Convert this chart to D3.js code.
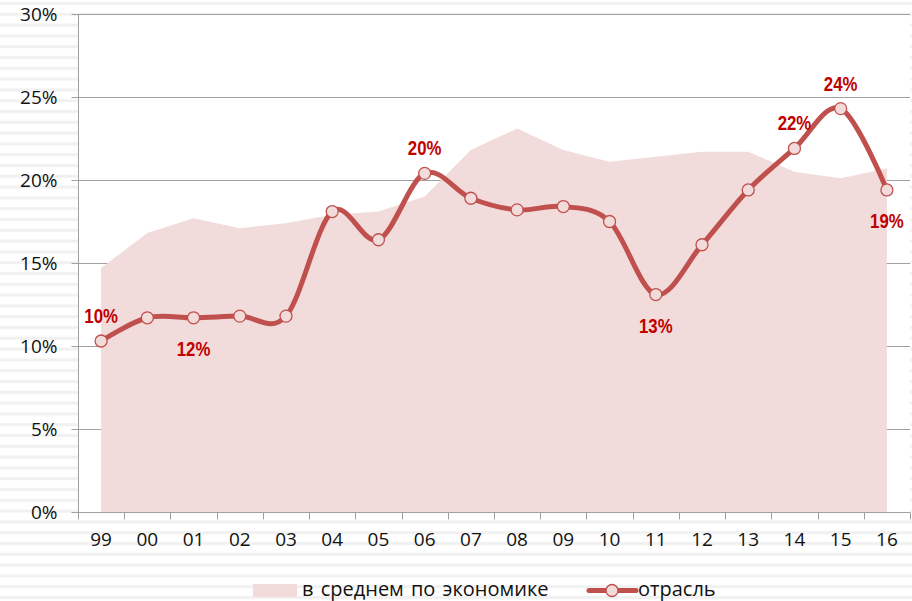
<!DOCTYPE html>
<meta charset="utf-8">
<style>
body { margin: 0; background: #fff; }
text { font-family: "Open Sans", sans-serif; }
.lbl { font-family: "Liberation Sans", Arial, sans-serif; font-weight: bold; }
</style>
<body>
<div id="chart"></div>
<script src="https://d3js.org/d3.v7.min.js"></script>
<script>

var years = ["99","00","01","02","03","04","05","06","07","08","09","10","11","12","13","14","15","16"];
var economy = [14.7, 16.8, 17.7, 17.1, 17.4, 17.9, 18.1, 19.0, 21.8, 23.1, 21.8, 21.1, 21.4, 21.7, 21.7, 20.5, 20.1, 20.7];
var industry = [10.3, 11.7, 11.7, 11.8, 11.8, 18.1, 16.4, 20.4, 18.9, 18.2, 18.4, 17.5, 13.1, 16.1, 19.4, 21.9, 24.3, 19.4];
var labelIdx = [0, 2, 7, 12, 15, 16, 17];
var labelPos = ["above", "below", "above", "below", "above", "above", "below"];
var yTicks = [0, 5, 10, 15, 20, 25, 30];
var legendNames = ["в среднем по экономике", "отрасль"];

var width = 912,
    height = 601,
    margin = {top: 14, right: 2, bottom: 89, left: 78};

var svg = d3.select("#chart").append("svg")
    .attr("width", width)
    .attr("height", height);

// faint striped background
var defs = svg.append("defs");
var pat = defs.append("pattern")
    .attr("id", "stripes")
    .attr("patternUnits", "userSpaceOnUse")
    .attr("width", 8).attr("height", 10.8);
pat.append("rect").attr("width", 8).attr("height", 10.8).attr("fill", "#fff");
pat.append("rect").attr("y", 2).attr("width", 8).attr("height", 3).attr("fill", "#f1f1f1");
svg.append("rect").attr("width", width).attr("height", height).attr("fill", "url(#stripes)");

var x = d3.scaleBand()
    .domain(years)
    .range([margin.left, width - margin.right]);

var y = d3.scaleLinear()
    .domain([0, 30])
    .range([height - margin.bottom, margin.top]);

var cx = function(i) { return x(years[i]) + x.bandwidth() / 2; };

// plot area
svg.append("rect")
    .attr("x", margin.left).attr("y", margin.top)
    .attr("width", width - margin.right - margin.left)
    .attr("height", y(0) - margin.top)
    .attr("fill", "#fff");

// gridlines
svg.append("g")
    .selectAll("line")
    .data(yTicks.slice(1))
    .enter().append("line")
    .attr("x1", margin.left).attr("x2", width - margin.right)
    .attr("y1", function(d) { return y(d) + 0.5; })
    .attr("y2", function(d) { return y(d) + 0.5; })
    .attr("stroke", "#a0a0a0");

// area
var area = d3.area()
    .x(function(d, i) { return cx(i); })
    .y0(y(0))
    .y1(function(d) { return y(d); });

svg.append("path")
    .datum(economy)
    .attr("d", area)
    .attr("fill", "#f2dcdb");

// y axis
var yAxis = svg.append("g")
    .attr("transform", "translate(" + (margin.left + 0.5) + ",0)")
    .call(d3.axisLeft(y).tickValues(yTicks).tickSize(7).tickPadding(14)
        .tickFormat(function(d) { return d + "%"; }));
yAxis.select(".domain").attr("stroke", "#a0a0a0").attr("d", "M0," + margin.top + "V" + y(0));
yAxis.selectAll(".tick line").attr("stroke", "#a0a0a0");
yAxis.selectAll(".tick text")
    .attr("font-size", 19).attr("fill", "#111")
    .style("font-family", "'Open Sans', sans-serif");

// x axis
var xAxis = svg.append("g")
    .attr("transform", "translate(0," + (y(0) + 0.5) + ")")
    .call(d3.axisBottom(x).tickSize(0).tickPadding(20));
xAxis.select(".domain").attr("stroke", "#a0a0a0")
    .attr("d", "M" + margin.left + ",0H" + (width - margin.right));
xAxis.selectAll(".tick text")
    .attr("font-size", 19).attr("fill", "#111")
    .style("font-family", "'Open Sans', sans-serif");
xAxis.selectAll("line.sep")
    .data(d3.range(years.length + 1))
    .enter().append("line")
    .attr("class", "sep")
    .attr("x1", function(d) { return Math.round(margin.left + d * x.step()) + 0.5; })
    .attr("x2", function(d) { return Math.round(margin.left + d * x.step()) + 0.5; })
    .attr("y1", 0).attr("y2", 7)
    .attr("stroke", "#a0a0a0");

// smooth line
var line = d3.line()
    .x(function(d, i) { return cx(i); })
    .y(function(d) { return y(d); })
    .curve(d3.curveCatmullRom.alpha(0));

svg.append("path")
    .datum(industry)
    .attr("d", line)
    .attr("fill", "none")
    .attr("stroke", "#c0504d")
    .attr("stroke-width", 5)
    .attr("stroke-linecap", "round");

svg.append("g")
    .selectAll("circle")
    .data(industry)
    .enter().append("circle")
    .attr("cx", function(d, i) { return cx(i); })
    .attr("cy", function(d) { return y(d); })
    .attr("r", 6)
    .attr("fill", "#f2dcdb")
    .attr("stroke", "#c0504d")
    .attr("stroke-width", 1.3);

// data labels (narrowed bold, like the original)
svg.append("g")
    .selectAll("text")
    .data(labelIdx)
    .enter().append("text")
    .attr("class", "lbl")
    .attr("transform", function(d, k) {
        var ly = y(industry[d]) + (labelPos[k] == "above" ? -18 : 38);
        return "translate(" + cx(d) + "," + ly + ") scale(0.8,1)";
    })
    .attr("text-anchor", "middle")
    .attr("font-size", 21)
    .attr("fill", "#c00000")
    .text(function(d) { return Math.round(industry[d]) + "%"; });

// legend
var leg = svg.append("g");
leg.append("rect")
    .attr("x", 253).attr("y", 584).attr("width", 44).attr("height", 13)
    .attr("fill", "#f2dcdb");
leg.append("text")
    .attr("x", 302).attr("y", 596)
    .attr("font-size", 20).attr("fill", "#111")
    .attr("word-spacing", 2)
    .text(legendNames[0]);
leg.append("line")
    .attr("x1", 589).attr("x2", 636).attr("y1", 590.5).attr("y2", 590.5)
    .attr("stroke", "#c0504d").attr("stroke-width", 5).attr("stroke-linecap", "round");
leg.append("circle")
    .attr("cx", 612).attr("cy", 590.5).attr("r", 6)
    .attr("fill", "#f2dcdb").attr("stroke", "#c0504d").attr("stroke-width", 1.3);
leg.append("text")
    .attr("x", 638).attr("y", 596)
    .attr("font-size", 20).attr("fill", "#111")
    .text(legendNames[1]);

</script>
</body>
